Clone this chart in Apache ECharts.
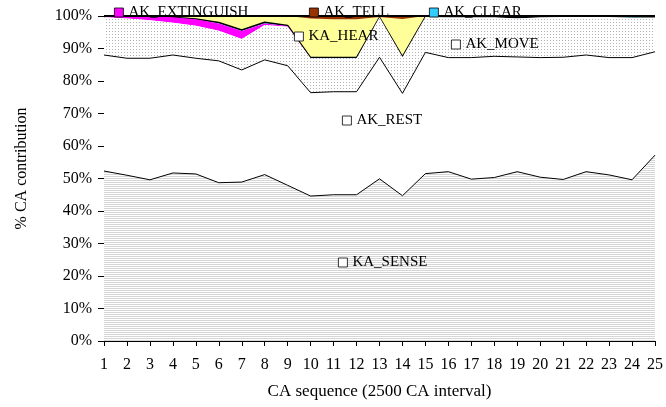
<!DOCTYPE html>
<html><head><meta charset="utf-8">
<script src="https://cdn.jsdelivr.net/npm/echarts@6/dist/echarts.min.js"></script>
<style>html,body{margin:0;padding:0;background:#fff}#c{width:666px;height:407px}</style>
</head><body><div id="c"></div>
<script>
const categories = ['1','2','3','4','5','6','7','8','9','10','11','12','13','14','15','16','17','18','19','20','21','22','23','24','25'];
const kaSense      = [52.3,51.0,49.6,51.7,51.4,48.7,48.9,51.2,47.9,44.6,45.0,45.0,49.9,44.7,51.5,52.1,49.8,50.3,52.1,50.4,49.7,52.1,51.1,49.6,57.2];
const akRest       = [35.7,36.0,37.4,36.3,35.6,37.5,34.5,35.3,36.8,31.8,31.7,31.7,37.4,31.5,37.3,35.1,37.4,37.3,35.3,36.8,37.6,35.9,36.1,37.6,31.8];
const akMove       = [11.6,12.2,11.7,9.9,10.0,9.3,9.5,10.7,12.0,10.6,10.3,10.3,12.3,11.2,10.9,12.4,12.4,12.0,11.8,12.4,12.4,11.7,12.5,12.3,10.4];
const akExtinguish = [0.4,0.8,1.2,1.7,2.0,2.2,2.5,0.5,0.2,0,0,0,0,0,0,0,0,0,0,0,0,0,0,0,0];
const akClear      = [0,0,0,0,0.1,0.3,0.3,0.4,0.2,0.2,0.2,0.2,0,0.1,0,0,0,0,0.3,0,0,0,0,0.3,0.4];
const kaHear       = [0,0,0.1,0.4,0.9,2.0,4.3,1.9,2.9,12.0,11.8,11.8,0.1,11.6,0.3,0.4,0.4,0.4,0.5,0.4,0.3,0.3,0.3,0.2,0.2];
const akTell       = [0,0,0,0,0,0,0,0,0,0.8,1.0,1.0,0.3,0.9,0,0,0,0,0,0,0,0,0,0,0];
const yTickLabels  = ['0%','10%','20%','30%','40%','50%','60%','70%','80%','90%','100%'];

function pattern(w, h, draw) {
  const c = document.createElement('canvas');
  c.width = w; c.height = h;
  const g = c.getContext('2d');
  g.fillStyle = '#ffffff'; g.fillRect(0, 0, w, h);
  draw(g);
  return { image: c, repeat: 'repeat' };
}
const stripes = pattern(4, 2, g => { g.fillStyle = '#d6d6d6'; g.fillRect(0, 0, 4, 1); });
const dots = pattern(3, 3, g => { g.fillStyle = '#b4b4b4'; g.fillRect(1, 1, 1, 1); });

const FONT = 'Liberation Serif';
const noLine = { width: 0, opacity: 0 };

function legendAt(name, left, top, fill) {
  return {
    data: [{ name: name, icon: 'rect', itemStyle: { color: fill, borderColor: '#000', borderWidth: 0.8 } }],
    left: left, top: top, padding: 0, itemWidth: 9, itemHeight: 9, itemGap: 0,
    selectedMode: false, z: 30,
    textStyle: { fontFamily: FONT, fontSize: 15, color: '#000' }
  };
}

function series(name, data, area, line, z) {
  return {
    name: name, type: 'line', stack: 'total', data: data, symbol: 'none', z: z,
    areaStyle: { color: area, opacity: 1 }, lineStyle: line,
    itemStyle: { color: typeof area === 'string' ? area : '#ffffff' },
    emphasis: { disabled: true }, silent: true
  };
}

const chart = echarts.init(document.getElementById('c'));
chart.setOption({
  animation: false,
  backgroundColor: '#ffffff',
  grid: { left: 104, right: 4, top: 16, bottom: 66, containLabel: false },
  legend: [
    legendAt('AK_EXTINGUISH', 114, 5, '#ff00ff'),
    legendAt('AK_TELL', 309, 5, '#993300'),
    legendAt('AK_CLEAR', 429, 5, '#33ccff'),
    legendAt('KA_HEAR', 294, 29, '#ffffff'),
    legendAt('AK_MOVE', 451, 37, '#ffffff'),
    legendAt('AK_REST', 342, 113, '#ffffff'),
    legendAt('KA_SENSE', 338, 255, '#ffffff')
  ],
  xAxis: {
    type: 'category', data: categories, boundaryGap: false,
    axisLine: { lineStyle: { color: '#000', width: 1 } },
    axisTick: { show: true, length: 5, lineStyle: { color: '#000' } },
    axisLabel: { interval: 0, margin: 16, fontFamily: FONT, fontSize: 16, color: '#000' },
    name: 'CA sequence (2500 CA interval)', nameLocation: 'middle', nameGap: 42,
    nameTextStyle: { fontFamily: FONT, fontSize: 17, color: '#000' }
  },
  yAxis: {
    type: 'value', min: 0, max: 100, interval: 10,
    axisLine: { show: true, lineStyle: { color: '#000', width: 1 } },
    axisTick: { show: true, length: 6, lineStyle: { color: '#000' } },
    splitLine: { show: false },
    axisLabel: { margin: 12, fontFamily: FONT, fontSize: 16, color: '#000',
      formatter: v => yTickLabels[Math.round(v / 10)] },
    name: '% CA contribution', nameLocation: 'middle', nameGap: 74, nameRotate: 90,
    nameTextStyle: { fontFamily: FONT, fontSize: 16, color: '#000', padding: [0, 0, 0, 20] }
  },
  series: [
    series('KA_SENSE', kaSense, stripes, { color: '#000', width: 1 }, 9),
    series('AK_REST', akRest, '#ffffff', { color: '#000', width: 1 }, 8),
    series('AK_MOVE', akMove, dots, noLine, 7),
    series('AK_EXTINGUISH', akExtinguish, '#ff00ff', noLine, 6),
    series('AK_CLEAR', akClear, '#33ccff', { color: '#000', width: 1.5 }, 5),
    series('KA_HEAR', kaHear, '#ffff99', noLine, 4),
    series('AK_TELL', akTell, '#993300', { color: '#000', width: 2 }, 10)
  ]
});
</script></body></html>
